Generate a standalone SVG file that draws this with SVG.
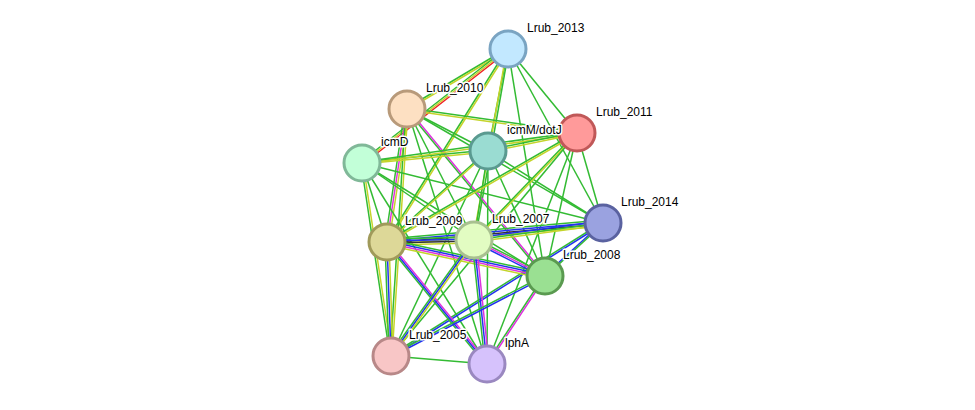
<svg xmlns="http://www.w3.org/2000/svg" width="975" height="410" viewBox="0 0 975 410">
<style>
line{stroke-width:1.5;fill:none}
.g{stroke:#33bb33}.y{stroke:#c4d42a}.r{stroke:#ee2222}.m{stroke:#dd33dd}.b{stroke:#2233ee}.k{stroke:#333333}
circle{stroke-width:3}
text{font-family:"Liberation Sans",Arial,sans-serif;font-size:12px;fill:#000;stroke:#fff;stroke-width:3;paint-order:stroke;stroke-linejoin:round}
</style>
<rect width="975" height="410" fill="#fff"/>
<g id="connectors">
<line class="g" x1="508" y1="48" x2="407" y2="108"/><line class="y" x1="508" y1="50" x2="407" y2="110"/>
<line class="g" x1="508" y1="47" x2="362" y2="161"/><line class="y" x1="508" y1="49" x2="362" y2="163"/><line class="r" x1="508" y1="51" x2="362" y2="165"/>
<line class="g" x1="508" y1="49" x2="577" y2="133"/>
<line class="g" x1="508" y1="49" x2="488" y2="151"/>
<line class="g" x1="508" y1="49" x2="603" y2="223"/>
<line class="y" x1="507" y1="49" x2="473" y2="240"/><line class="g" x1="509" y1="49" x2="475" y2="240"/>
<line class="g" x1="508" y1="49" x2="545" y2="276"/>
<line class="g" x1="507" y1="49" x2="386" y2="242"/><line class="y" x1="509" y1="49" x2="388" y2="242"/>
<line class="g" x1="407" y1="108" x2="577" y2="132"/><line class="y" x1="407" y1="110" x2="577" y2="134"/>
<line class="g" x1="407" y1="109" x2="488" y2="151"/>
<line class="g" x1="405" y1="109" x2="385" y2="242"/><line class="m" x1="407" y1="109" x2="387" y2="242"/><line class="y" x1="409" y1="109" x2="389" y2="242"/>
<line class="g" x1="407" y1="109" x2="474" y2="240"/>
<line class="g" x1="406" y1="109" x2="544" y2="276"/><line class="m" x1="408" y1="109" x2="546" y2="276"/>
<line class="g" x1="407" y1="109" x2="603" y2="223"/>
<line class="g" x1="407" y1="109" x2="487" y2="364"/>
<line class="g" x1="406" y1="109" x2="390" y2="356"/><line class="y" x1="408" y1="109" x2="392" y2="356"/>
<line class="g" x1="362" y1="162" x2="488" y2="150"/><line class="y" x1="362" y1="164" x2="488" y2="152"/>
<line class="g" x1="362" y1="162" x2="577" y2="132"/><line class="y" x1="362" y1="164" x2="577" y2="134"/>
<line class="g" x1="362" y1="163" x2="603" y2="223"/>
<line class="g" x1="362" y1="163" x2="545" y2="276"/>
<line class="g" x1="361" y1="163" x2="390" y2="356"/><line class="y" x1="363" y1="163" x2="392" y2="356"/>
<line class="g" x1="362" y1="163" x2="487" y2="364"/>
<line class="g" x1="362" y1="163" x2="387" y2="242"/>
<line class="g" x1="362" y1="163" x2="474" y2="240"/>
<line class="g" x1="488" y1="150" x2="577" y2="132"/><line class="y" x1="488" y1="152" x2="577" y2="134"/>
<line class="g" x1="487" y1="151" x2="386" y2="242"/><line class="y" x1="489" y1="151" x2="388" y2="242"/>
<line class="g" x1="488" y1="151" x2="474" y2="240"/>
<line class="g" x1="488" y1="151" x2="545" y2="276"/>
<line class="g" x1="488" y1="151" x2="391" y2="356"/>
<line class="g" x1="488" y1="151" x2="487" y2="364"/>
<line class="g" x1="488" y1="151" x2="603" y2="223"/>
<line class="g" x1="577" y1="132" x2="387" y2="241"/><line class="y" x1="577" y1="134" x2="387" y2="243"/>
<line class="g" x1="576" y1="133" x2="473" y2="240"/><line class="y" x1="578" y1="133" x2="475" y2="240"/>
<line class="g" x1="577" y1="133" x2="545" y2="276"/>
<line class="g" x1="577" y1="133" x2="603" y2="223"/>
<line class="g" x1="577" y1="133" x2="391" y2="356"/>
<line class="g" x1="577" y1="133" x2="487" y2="364"/>
<line class="g" x1="603" y1="220" x2="387" y2="239"/><line class="b" x1="603" y1="222" x2="387" y2="241"/><line class="k" x1="603" y1="224" x2="387" y2="243"/><line class="y" x1="603" y1="226" x2="387" y2="245"/>
<line class="b" x1="603" y1="221" x2="474" y2="238"/><line class="g" x1="603" y1="223" x2="474" y2="240"/><line class="y" x1="603" y1="225" x2="474" y2="242"/>
<line class="b" x1="602" y1="223" x2="544" y2="276"/><line class="g" x1="604" y1="223" x2="546" y2="276"/>
<line class="g" x1="603" y1="222" x2="391" y2="355"/><line class="b" x1="603" y1="224" x2="391" y2="357"/>
<line class="g" x1="387" y1="239" x2="474" y2="237"/><line class="b" x1="387" y1="241" x2="474" y2="239"/><line class="k" x1="387" y1="243" x2="474" y2="241"/><line class="y" x1="387" y1="245" x2="474" y2="243"/>
<line class="g" x1="387" y1="239" x2="545" y2="273"/><line class="b" x1="387" y1="241" x2="545" y2="275"/><line class="m" x1="387" y1="243" x2="545" y2="277"/><line class="y" x1="387" y1="245" x2="545" y2="279"/>
<line class="g" x1="385" y1="242" x2="389" y2="356"/><line class="b" x1="387" y1="242" x2="391" y2="356"/><line class="y" x1="389" y1="242" x2="393" y2="356"/>
<line class="g" x1="385" y1="242" x2="485" y2="364"/><line class="b" x1="387" y1="242" x2="487" y2="364"/><line class="m" x1="389" y1="242" x2="489" y2="364"/>
<line class="g" x1="474" y1="238" x2="545" y2="274"/><line class="m" x1="474" y1="240" x2="545" y2="276"/><line class="b" x1="474" y1="242" x2="545" y2="278"/>
<line class="g" x1="472" y1="240" x2="389" y2="356"/><line class="b" x1="474" y1="240" x2="391" y2="356"/><line class="y" x1="476" y1="240" x2="393" y2="356"/>
<line class="g" x1="472" y1="240" x2="485" y2="364"/><line class="b" x1="474" y1="240" x2="487" y2="364"/><line class="m" x1="476" y1="240" x2="489" y2="364"/>
<line class="g" x1="545" y1="275" x2="391" y2="355"/><line class="b" x1="545" y1="277" x2="391" y2="357"/>
<line class="g" x1="544" y1="276" x2="486" y2="364"/><line class="m" x1="546" y1="276" x2="488" y2="364"/>
<line class="g" x1="391" y1="356" x2="487" y2="364"/>
</g>
<g id="Lrub_2013"><circle cx="508" cy="49" r="18" fill="#c2e8ff" stroke="#7aa4c2"/><text x="527" y="32">Lrub_2013</text></g>
<g id="Lrub_2010"><circle cx="407" cy="109" r="18" fill="#fde0c2" stroke="#b89a7a"/><text x="426" y="92">Lrub_2010</text></g>
<g id="Lrub_2011"><circle cx="577" cy="133" r="18" fill="#ff9a9a" stroke="#c05858"/><text x="596" y="116">Lrub_2011</text></g>
<g id="icmD"><circle cx="362" cy="163" r="18" fill="#c2ffd8" stroke="#80b898"/><text x="381" y="146">icmD</text></g>
<g id="icmM"><circle cx="488" cy="151" r="18" fill="#9adcd2" stroke="#5a9a90"/><text x="507" y="134">icmM/dotJ</text></g>
<g id="Lrub_2014"><circle cx="603" cy="223" r="18" fill="#9aa2e0" stroke="#5a62a0"/><text x="621" y="206">Lrub_2014</text></g>
<g id="Lrub_2009"><circle cx="387" cy="242" r="18" fill="#ddd898" stroke="#a09a5a"/><text x="405" y="225">Lrub_2009</text></g>
<g id="Lrub_2007"><circle cx="474" cy="240" r="18" fill="#e2fcc2" stroke="#a8c090"/><text x="492" y="223">Lrub_2007</text></g>
<g id="Lrub_2008"><circle cx="545" cy="276" r="18" fill="#9ae092" stroke="#5a9a50"/><text x="563" y="259">Lrub_2008</text></g>
<g id="Lrub_2005"><circle cx="391" cy="356" r="18" fill="#f8c6c6" stroke="#b88888"/><text x="409" y="339">Lrub_2005</text></g>
<g id="lphA"><circle cx="487" cy="364" r="18" fill="#d6c2fc" stroke="#9a88c0"/><text x="505" y="347">lphA</text></g>
</svg>
